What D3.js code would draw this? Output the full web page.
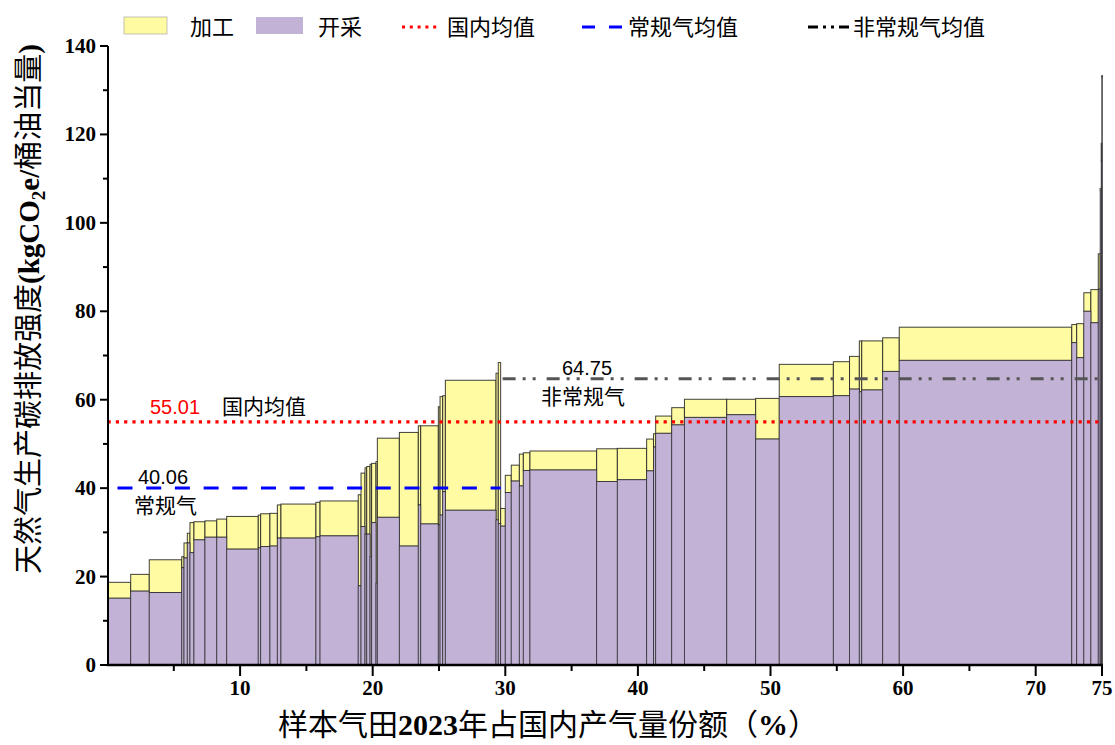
<!DOCTYPE html>
<html>
<head>
<meta charset="utf-8">
<script src="https://cdn.jsdelivr.net/npm/d3@7"></script>
<style>
  html, body { margin: 0; padding: 0; background: #ffffff; }
  svg { display: block; }
</style>
</head>
<body>
<svg id="chart" width="1115" height="745"></svg>
<script>
// Gas fields sorted as on the supply curve: share of 2023 domestic output (%),
// extraction (开采) and processing (加工) carbon intensity, kgCO2e per barrel of oil equivalent.
const shares = [
  1.75, 1.40, 2.45, 0.17, 0.25, 0.20, 0.30, 0.83, 0.89, 0.75,
  2.38, 0.18, 0.70, 0.56, 0.27, 2.64, 0.31, 2.88, 0.21, 0.30,
  0.13, 0.25, 0.12, 0.33, 0.10, 1.66, 1.43, 0.18, 1.33, 0.13,
  0.20, 0.20, 3.82, 0.17, 0.18,
  0.35, 0.45, 0.61, 0.30, 0.50, 5.03, 1.56, 2.21, 0.52, 0.16,
  1.21, 0.96, 3.19, 2.18, 1.78, 4.08, 1.22, 0.74, 0.18, 1.58,
  1.25, 13.01, 0.37, 0.54, 0.53, 0.56, 0.14, 0.08, 0.04, 0.05
];
const extraction = [
  15.1, 16.7, 16.4, 22.0, 24.2, 27.6, 25.4, 28.3, 28.9, 28.9,
  26.2, 26.5, 26.8, 26.9, 28.7, 28.7, 29.0, 29.2, 17.9, 31.3,
  29.6, 29.6, 24.5, 32.2, 18.5, 33.4, 26.9, 36.2, 31.9, 31.7,
  33.9, 39.2, 35.0, 32.8, 32.0,
  31.4, 39.0, 41.6, 40.5, 44.0, 44.1, 41.5, 41.9, 43.9, 49.3,
  52.4, 54.3, 56.0, 56.6, 51.1, 60.7, 60.9, 62.4, 61.8, 62.2,
  66.4, 68.9, 72.9, 69.5, 80.0, 77.4, 85.0, 107.4, 114.0, 133.0
];
const processing = [
  3.6, 3.8, 7.4, 2.5, 3.4, 2.2, 6.8, 4.1, 3.7, 4.1,
  7.4, 7.4, 7.4, 7.4, 7.5, 7.7, 7.8, 7.9, 20.6, 12.1,
  15.0, 15.3, 20.9, 13.4, 27.5, 17.9, 25.7, 17.9, 22.2, 26.7,
  26.8, 21.7, 29.4, 33.2, 36.4,
  4.0, 3.9, 3.6, 7.2, 4.0, 4.3, 7.4, 7.1, 7.2, 3.0,
  3.9, 3.9, 4.1, 3.5, 9.2, 7.3, 7.7, 7.4, 11.5, 11.1,
  7.6, 7.5, 4.1, 7.7, 4.2, 7.5, 8.0, 0.4, 4.0, 0.3
];
// share of output covered by conventional fields (the rest are unconventional)
const conventionalShare = 29.65;

const nationalMean = 55.01;
const conventionalMean = 40.06;
const unconventionalMean = 64.75;

const xTicksLabelled = [10, 20, 30, 40, 50, 60, 70, 75];
const xTicksMinor = [5, 15, 25, 35, 45, 55, 65];
const yTicks = [0, 20, 40, 60, 80, 100, 120, 140];
const yTicksMinor = [10, 30, 50, 70, 90, 110, 130];

const legendLabels = ["加工", "开采", "国内均值", "常规气均值", "非常规气均值"];

// ---- layout ----
const svg = d3.select("#chart");
const x = d3.scaleLinear().domain([0, 75]).range([107.5, 1102]);
const y = d3.scaleLinear().domain([0, 140]).range([665, 46]);

const YELLOW = "#fffba2";
const PURPLE = "#c2b3d6";
const serifBold = "'Liberation Serif', 'Times New Roman', serif";
const cjk = "'Noto Sans CJK SC', 'Noto Sans', sans-serif";
const sans = "'Liberation Sans', Arial, sans-serif";

// cumulative start of every field on the x axis
let acc = 0;
const fields = shares.map((w, i) => {
  const d = { x0: acc, x1: acc + w, m: extraction[i], p: processing[i] };
  acc += w;
  return d;
});

const bars = svg.append("g").attr("class", "bars");

// processing part on top of extraction
bars.selectAll("rect.proc")
  .data(fields).join("rect")
  .attr("class", "proc")
  .attr("x", d => x(d.x0))
  .attr("width", d => Math.max(0.6, x(d.x1) - x(d.x0)))
  .attr("y", d => y(d.m + d.p))
  .attr("height", d => y(d.m) - y(d.m + d.p))
  .attr("fill", YELLOW)
  .attr("stroke", "#1e1e1e")
  .attr("stroke-width", 1)
  .attr("stroke-opacity", 0.85);

bars.selectAll("rect.extr")
  .data(fields).join("rect")
  .attr("class", "extr")
  .attr("x", d => x(d.x0))
  .attr("width", d => Math.max(0.6, x(d.x1) - x(d.x0)))
  .attr("y", d => y(d.m))
  .attr("height", d => y(0) - y(d.m))
  .attr("fill", PURPLE)
  .attr("stroke", "#1e1e1e")
  .attr("stroke-width", 0.9)
  .attr("stroke-opacity", 0.75);

// ---- mean lines ----
const lines = svg.append("g").attr("class", "means");
lines.append("line")
  .attr("x1", x(0)).attr("x2", x(75.05))
  .attr("y1", y(nationalMean)).attr("y2", y(nationalMean))
  .attr("stroke", "#ff0000").attr("stroke-width", 3.2)
  .attr("stroke-dasharray", "3.2,5.1");
lines.append("line")
  .attr("x1", x(0)).attr("x2", x(conventionalShare))
  .attr("y1", y(conventionalMean)).attr("y2", y(conventionalMean))
  .attr("stroke", "#0000ff").attr("stroke-width", 3)
  .attr("stroke-dasharray", "15,13.7").attr("stroke-dashoffset", 18.7);
lines.append("line")
  .attr("x1", x(conventionalShare + 0.15)).attr("x2", x(75.05))
  .attr("y1", y(unconventionalMean)).attr("y2", y(unconventionalMean))
  .attr("stroke", "#555555").attr("stroke-width", 3)
  .attr("stroke-dasharray", "13,7,3,7,3,11");

// ---- annotations ----
const ann = svg.append("g").attr("class", "annotations");
ann.append("text").attr("x", 150).attr("y", y(nationalMean) - 8)
  .attr("font-family", sans).attr("font-size", 20).attr("fill", "#ff0000")
  .text(nationalMean.toFixed(2));
ann.append("text").attr("x", 222).attr("y", y(nationalMean) - 8)
  .attr("font-family", cjk).attr("font-size", 21).attr("fill", "#000")
  .text("国内均值");
ann.append("text").attr("x", 138).attr("y", y(conventionalMean) - 4)
  .attr("font-family", sans).attr("font-size", 20).attr("fill", "#000")
  .text(conventionalMean.toFixed(2));
ann.append("text").attr("x", 134).attr("y", y(conventionalMean) + 25)
  .attr("font-family", cjk).attr("font-size", 21).attr("fill", "#000")
  .text("常规气");
ann.append("text").attr("x", 562).attr("y", y(unconventionalMean) - 4)
  .attr("font-family", sans).attr("font-size", 20).attr("fill", "#000")
  .text(unconventionalMean.toFixed(2));
ann.append("text").attr("x", 541).attr("y", y(unconventionalMean) + 25)
  .attr("font-family", cjk).attr("font-size", 21).attr("fill", "#000")
  .text("非常规气");

// ---- axes ----
const axes = svg.append("g").attr("class", "axes");
// y axis
axes.append("line").attr("x1", 108).attr("x2", 108).attr("y1", y(140)).attr("y2", y(0) + 1)
  .attr("stroke", "#000").attr("stroke-width", 2);
axes.selectAll("line.ytick").data(yTicks).join("line")
  .attr("class", "ytick")
  .attr("x1", 100).attr("x2", 108)
  .attr("y1", d => y(d)).attr("y2", d => y(d))
  .attr("stroke", "#000").attr("stroke-width", 2);
axes.selectAll("line.ytickm").data(yTicksMinor).join("line")
  .attr("class", "ytickm")
  .attr("x1", 103).attr("x2", 108)
  .attr("y1", d => y(d)).attr("y2", d => y(d))
  .attr("stroke", "#000").attr("stroke-width", 2);
axes.selectAll("text.ylab").data(yTicks).join("text")
  .attr("class", "ylab")
  .attr("x", 96).attr("y", d => y(d) + 7)
  .attr("text-anchor", "end")
  .attr("font-family", serifBold).attr("font-weight", "bold").attr("font-size", 21)
  .text(d => d);

// x axis
axes.append("line").attr("x1", 107).attr("x2", x(75) + 1).attr("y1", 665).attr("y2", 665)
  .attr("stroke", "#000").attr("stroke-width", 2.5);
axes.selectAll("line.xtick").data(xTicksLabelled).join("line")
  .attr("class", "xtick")
  .attr("x1", d => x(d)).attr("x2", d => x(d))
  .attr("y1", 665).attr("y2", 676)
  .attr("stroke", "#000").attr("stroke-width", 2);
axes.selectAll("line.xtickm").data(xTicksMinor).join("line")
  .attr("class", "xtickm")
  .attr("x1", d => x(d)).attr("x2", d => x(d))
  .attr("y1", 665).attr("y2", 671)
  .attr("stroke", "#000").attr("stroke-width", 2);
axes.selectAll("text.xlab").data(xTicksLabelled).join("text")
  .attr("class", "xlab")
  .attr("x", d => x(d)).attr("y", 695)
  .attr("text-anchor", "middle")
  .attr("font-family", serifBold).attr("font-weight", "bold").attr("font-size", 21)
  .text(d => d);

// axis titles
const xt = svg.append("text").attr("x", 548).attr("y", 735)
  .attr("text-anchor", "middle").attr("font-size", 30).attr("fill", "#000");
xt.append("tspan").attr("font-family", cjk).text("样本气田");
xt.append("tspan").attr("font-family", serifBold).attr("font-weight", "bold").text("2023");
xt.append("tspan").attr("font-family", cjk).text("年占国内产气量份额（");
xt.append("tspan").attr("font-family", serifBold).attr("font-weight", "bold").text("%");
xt.append("tspan").attr("font-family", cjk).text("）");

const yt = svg.append("text")
  .attr("transform", "translate(39,309) rotate(-90)")
  .attr("text-anchor", "middle").attr("font-size", 29).attr("fill", "#000");
yt.append("tspan").attr("font-family", cjk).text("天然气生产碳排放强度");
yt.append("tspan").attr("font-family", serifBold).attr("font-weight", "bold").text("(kgCO");
yt.append("tspan").attr("font-family", serifBold).attr("font-weight", "bold")
  .attr("font-size", 19).attr("dy", 6).text("2");
yt.append("tspan").attr("font-family", serifBold).attr("font-weight", "bold")
  .attr("dy", -6).text("e/");
yt.append("tspan").attr("font-family", cjk).text("桶油当量");
yt.append("tspan").attr("font-family", serifBold).attr("font-weight", "bold").text(")");

// ---- legend ----
const lg = svg.append("g").attr("class", "legend");
lg.append("rect").attr("x", 124).attr("y", 17).attr("width", 43).attr("height", 17)
  .attr("fill", YELLOW).attr("stroke", "#999").attr("stroke-width", 0.6);
lg.append("text").attr("x", 190).attr("y", 35).attr("font-family", cjk).attr("font-size", 22)
  .text(legendLabels[0]);
lg.append("rect").attr("x", 256).attr("y", 17).attr("width", 47).attr("height", 17)
  .attr("fill", PURPLE);
lg.append("text").attr("x", 318).attr("y", 35).attr("font-family", cjk).attr("font-size", 22)
  .text(legendLabels[1]);
lg.append("line").attr("x1", 402).attr("x2", 441).attr("y1", 27).attr("y2", 27)
  .attr("stroke", "#ff0000").attr("stroke-width", 3).attr("stroke-dasharray", "3,4.8");
lg.append("text").attr("x", 447).attr("y", 35).attr("font-family", cjk).attr("font-size", 22)
  .text(legendLabels[2]);
lg.append("line").attr("x1", 582).attr("x2", 625).attr("y1", 27).attr("y2", 27)
  .attr("stroke", "#0000ff").attr("stroke-width", 3).attr("stroke-dasharray", "13,14");
lg.append("text").attr("x", 628).attr("y", 35).attr("font-family", cjk).attr("font-size", 22)
  .text(legendLabels[3]);
lg.append("line").attr("x1", 808).attr("x2", 850).attr("y1", 27).attr("y2", 27)
  .attr("stroke", "#000").attr("stroke-width", 3).attr("stroke-dasharray", "10,5,3,5,3,5");
lg.append("text").attr("x", 853).attr("y", 35).attr("font-family", cjk).attr("font-size", 22)
  .text(legendLabels[4]);
</script>
</body>
</html>
